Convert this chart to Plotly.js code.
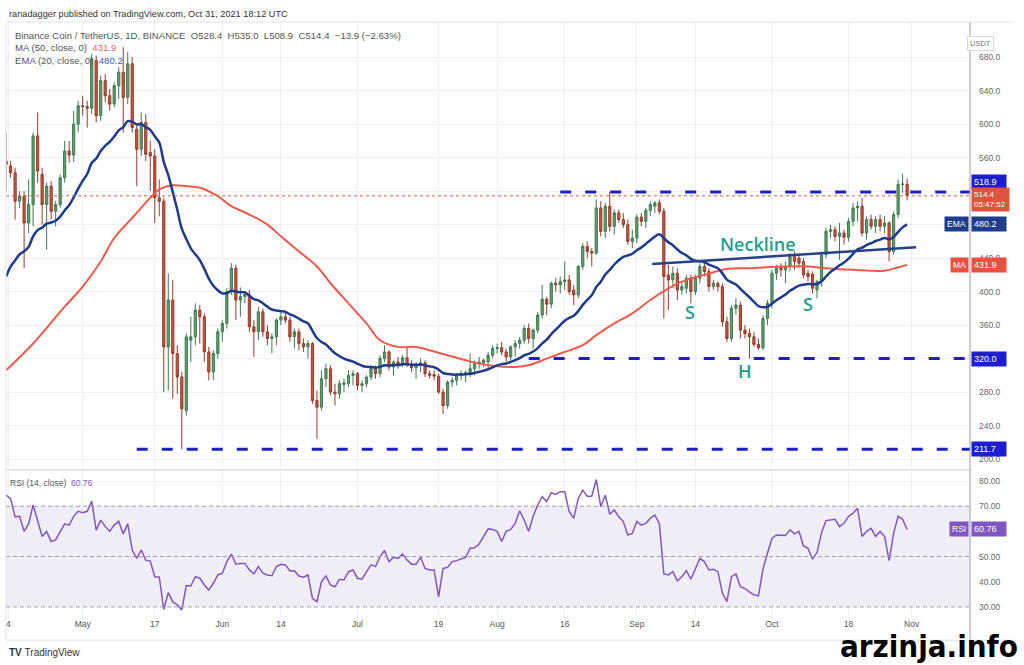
<!DOCTYPE html>
<html><head><meta charset="utf-8">
<script src="https://cdn.plot.ly/plotly-3.0.1.min.js"></script>
<style>html,body{margin:0;padding:0;background:#fff}#chart{width:1024px;height:665px}</style>
</head><body><div id="chart"></div>
<script>
// ---- data ----
const startDate = '2021-04-14';
const opens  = [556,550,542,508,514,482,504,586,540,504,526,496,504,536,568,563,600,
622,621,619,676,610,652,634,624,646,662,632,672,594,570,602,566,562,512,508,334,390,326,298,258,342,346,378,370,328,304,326,
352,362,400,428,390,394,396,358,352,376,352,344,346,366,370,366,346,352,338,334,338,270,262,296,308,280,278,289,290,300,
302,288,290,298,308,302,320,328,310,316,314,321,313,309,312,315,302,301,299,280,264,292,294,300,302,302,308,314,315,316,324,
332,333,328,322,334,338,342,356,344,354,372,391,385,410,408,412,414,402,396,430,454,448,446,500,472,502,478,494,486,480,460,
464,489,484,497,502,506,496,420,414,422,402,404,416,400,416,430,424,406,410,406,364,344,380,384,354,350,346,337,333,368,
386,422,430,426,430,442,440,436,422,421,402,412,444,472,474,466,470,465,484,500,502,470,486,478,486,478,482,448,492,528,528.4];
const highs  = [590,556,548,520,520,534,590,614,548,530,532,508,540,580,580,616,628,
634,628,684,682,658,660,642,650,668,692,686,680,600,614,612,580,570,534,512,422,414,336,304,350,370,386,384,374,334,330,356,
366,404,434,432,405,400,402,366,382,380,360,350,368,376,374,370,356,356,344,342,340,282,306,314,312,290,294,296,306,306,
304,294,300,312,312,324,336,330,318,322,324,334,318,316,320,318,306,306,302,284,294,298,302,306,306,326,318,322,320,328,336,
338,340,332,336,342,346,360,362,356,376,408,394,412,416,418,436,420,408,432,458,460,452,510,508,506,518.9,498,498,494,486,474,
492,494,500,508,508,510,500,432,430,428,410,420,420,420,434,436,428,414,412,410,370,384,392,388,360,356,352,344,372,390,
426,432,434,436,446,448,444,440,426,424,414,448,476,480,478,482,474,488,506,508,512,490,492,490,492,490,484,496,534,541,535];
const lows   = [520,536,486,500,428,470,478,530,480,450,486,478,500,530,554,555,590,
610,596,612,602,604,626,616,620,630,590,624,590,526,562,556,520,482,490,280,282,272,278,211.7,252,316,336,338,316,294,294,320,
340,356,396,366,370,386,352,322,342,346,336,326,336,360,362,340,332,330,328,320,266,224,258,286,276,264,272,280,286,288,
282,280,286,294,296,298,316,306,300,308,310,310,304,296,304,298,296,294,278,254,260,286,288,294,292,298,300,308,310,308,320,
326,324,316,318,322,332,338,338,332,350,368,372,380,400,398,402,396,384,392,426,440,430,444,466,464,472,468,482,476,456,452,
458,478,476,490,494,492,368,378,404,390,396,398,386,396,410,418,400,402,400,358,340,340,372,344,344,320,334,330,330,360,
380,414,418,410,424,426,428,416,412,398,392,406,440,464,460,438,456,460,478,484,466,462,474,470,472,470,436,444,488,518,508.9];
const closes = [552,542,508,514,482,504,586,544,504,526,496,504,536,568,563,600,622,
621,619,678,610,652,634,624,646,662,632,672,596,570,602,564,562,512,508,334,390,326,298,260,346,346,378,370,328,304,326,352,
362,400,428,390,394,397,358,352,376,352,344,346,366,370,366,346,352,338,334,338,270,262,296,308,280,278,290,291,300,302,
288,290,298,308,302,320,328,310,316,314,321,313,309,312,315,302,300,299,280,264,292,294,300,302,303,308,314,316,318,324,332,
333,328,322,334,338,342,356,344,354,372,391,385,410,408,412,414,400,396,430,454,448,446,500,472,502,478,494,486,480,460,464,
489,484,497,504,506,496,418,414,422,402,406,416,400,416,430,424,406,410,406,364,344,380,384,354,350,346,337,333,368,386,
422,428,426,430,442,436,434,420,418,404,412,444,472,474,466,470,465,484,500,502,470,486,478,486,478,482,448,492,528,528.4,514.4];
const rsiValues = [74.4,73,65.8,66,60,63,70.5,64.5,58,60,
56,56.6,60,63,62.5,66,68,67.4,68,72,
60.5,64.5,62,60,62.5,64,59,63,52.6,49.3,
52.6,48.6,48.2,42,41.8,29,35.7,32,30.8,28.8,
38.5,38.3,42,41.4,38.7,36.7,39.4,42.7,43.4,48,
51,47,47.3,47.3,44.7,43.1,46,43.4,42.7,42.4,
46,46.9,46.7,44.3,44.4,42.3,41.8,42.7,33.4,32.1,
40,42.3,38.7,38,41,40.7,44,44.7,41.4,41,
44,46.7,46,50,52.4,48,49.7,49.3,51,48.6,
47,47,49.7,45.3,44.7,44.7,34,45.3,45.7,48,
48.4,49,49.7,53.3,53.5,55,58,61,60.8,60,
56,60,60.8,63.2,68.2,64.5,60,66,70.5,73.8,
71.8,75.4,74.7,75.8,75.8,67.8,65.2,73,76.4,74,
74,80.6,69.8,74.4,66.8,68.5,65.8,63.9,58.6,59.2,
63.9,62.5,63.2,65.2,66.5,63.2,43.1,42.7,44,40.4,
42,44.4,41,45.3,49.3,48,44.7,45,44,35.4,
32.1,42,43.1,38,37.3,36,34.8,34.4,45,51.3,
57.2,58.6,58.5,58.4,60.6,59,60,54.2,53.3,49,
51.6,59.5,64.3,64.5,64.8,61.9,63.2,66,67.2,69.2,
58,60,61.2,58,60,58,48.4,59.2,66,64.8,
60.76];
const maDates = ['2021-04-14','2021-04-20','2021-04-27','2021-05-01','2021-05-05','2021-05-08','2021-05-12','2021-05-16','2021-05-18','2021-05-21',
'2021-05-24','2021-05-27','2021-05-31','2021-06-03','2021-06-07','2021-06-11','2021-06-14','2021-06-18','2021-06-22','2021-06-25',
'2021-06-29','2021-07-03','2021-07-06','2021-07-10','2021-07-14','2021-07-17','2021-07-21','2021-07-25','2021-07-28','2021-08-01',
'2021-08-05','2021-08-08','2021-08-12','2021-08-16','2021-08-20','2021-08-23','2021-08-27','2021-08-31','2021-09-04','2021-09-08',
'2021-09-12','2021-09-16','2021-09-21','2021-09-26','2021-10-04','2021-10-09','2021-10-13','2021-10-19','2021-10-26','2021-10-29','2021-10-31'];
const maValues = [306,338,382,406,436,464,488,512,522,527,
526,524,514,502,492,480,466,448,430,410,
386,362,342,334,334,330,324,318,314,311,
310,312,320,328,336,348,362,374,390,404,
414,420,427,428,430,430,428,426,425,429,431.9];
const emaSeed = 418;          // EMA(20) value at the first visible day
const emaLength = 20;
const tickDates  = ['2021-04-14 12:00','2021-05-01','2021-05-17','2021-06-01','2021-06-14','2021-07-01','2021-07-19','2021-08-01','2021-08-16','2021-09-01','2021-09-14','2021-10-01','2021-10-18','2021-11-01'];
const tickLabels = ['4','May','17','Jun','14','Jul','19','Aug','16','Sep','14','Oct','18','Nov'];
const priceTicks = [200,240,280,320,360,400,440,480,520,560,600,640,680];
const priceTickLabels = ['200.0','240.0','280.0','','360.0','400.0','440.0','','','560.0','600.0','640.0','680.0'];
const rsiTicks = [30,40,50,60,70,80];
const rsiTickLabels = ['30.00','40.00','50.00','','70.00','80.00'];
const levelValues = [518.9, 320.0, 211.7];
const levelStarts = ['2021-08-15','2021-08-08','2021-05-13'];
const necklineDates = ['2021-09-04 10:00','2021-11-02'];
const necklinePrices = [433, 453];
const lastPrice = 514.4, lastEma = 480.2, lastMa = 431.9, lastRsi = 60.76;

// ---- derived ----
const dates = [];
const t0 = Date.parse(startDate + 'T00:00:00Z');
for (let i = 0; i < closes.length; i++) dates.push(new Date(t0 + i*86400000).toISOString().slice(0,10));
const ema = [];
const a = 2/(emaLength+1);
closes.forEach((c,i)=>{ ema.push(i===0 ? emaSeed : ema[i-1] + a*(c-ema[i-1])); });

const FONT = 'Liberation Sans, Arial, sans-serif';
const traces = [
  {type:'candlestick', x:dates, open:opens, high:highs, low:lows, close:closes, xaxis:'x', yaxis:'y',
   increasing:{line:{color:'#3f7a50',width:1}, fillcolor:'#5e9f6f'},
   decreasing:{line:{color:'#963a2c',width:1}, fillcolor:'#c9553f'}, hoverinfo:'skip'},
  {type:'scatter', mode:'lines', x:maDates, y:maValues, line:{color:'#ee5a4c',width:2,shape:'spline'}, xaxis:'x', yaxis:'y', hoverinfo:'skip'},
  {type:'scatter', mode:'lines', x:dates, y:ema, line:{color:'#1f3b8c',width:2.5,shape:'spline'}, xaxis:'x', yaxis:'y', hoverinfo:'skip'},
  {type:'scatter', mode:'lines', x:dates, y:rsiValues, line:{color:'#7e57c2',width:1.5}, xaxis:'x', yaxis:'y2', hoverinfo:'skip'}
];

const shapes = [];
shapes.push({type:'rect', xref:'paper', yref:'y2', x0:0, x1:1, y0:30, y1:70, fillcolor:'rgba(126,87,194,0.10)', line:{width:0}, layer:'below'});
[30,50,70].forEach(v=>shapes.push({type:'line', xref:'paper', yref:'y2', x0:0, x1:1, y0:v, y1:v, line:{color:'#9e9ea6',width:1,dash:'4px,3px'}}));
levelValues.forEach((v,i)=>shapes.push({type:'line', xref:'x', yref:'y', x0:levelStarts[i], x1:'2021-11-14', y0:v, y1:v, line:{color:'#2020c0',width:3,dash:'11px,14px'}}));
shapes.push({type:'line', xref:'x', yref:'y', x0:necklineDates[0], x1:necklineDates[1], y0:necklinePrices[0], y1:necklinePrices[1], line:{color:'#24418a',width:2.5}});
shapes.push({type:'line', xref:'paper', yref:'y', x0:0, x1:1, y0:lastPrice, y1:lastPrice, line:{color:'#e0603f',width:1,dash:'dot'}});
shapes.push({type:'line', xref:'paper', yref:'paper', x0:0, x1:1, y0:0.2471, y1:0.2471, line:{color:'#c9ccd4',width:1}});
shapes.push({type:'line', xref:'paper', yref:'paper', x0:1, x1:1, y0:-0.039, y1:1, line:{color:'#9a9ca3',width:1}});
shapes.push({type:'line', xref:'paper', yref:'paper', x0:0, x1:1.045, y0:1, y1:1, line:{color:'#e0e3eb',width:1}});
shapes.push({type:'line', xref:'paper', yref:'paper', x0:0, x1:0, y0:-0.039, y1:1, line:{color:'#e0e3eb',width:1}});
shapes.push({type:'line', xref:'paper', yref:'paper', x0:0, x1:1.045, y0:-0.039, y1:-0.039, line:{color:'#e0e3eb',width:1}});

const PX = px => (px-6)/964;
const PY = py => (617-py)/595;
const ann = [];
function txt(x,y,text,opt){ ann.push(Object.assign({xref:'paper',yref:'paper',x:PX(x),y:PY(y),text:text,showarrow:false,xanchor:'left',yanchor:'middle',font:{family:FONT,size:9.6,color:'#555'}},opt||{})); }
txt(7,14,'ranadagger published on TradingView.com, Oct 31, 2021 18:12 UTC',{font:{family:FONT,size:9.2,color:'#333'}});
txt(13,35,'Binance Coin / TetherUS, 1D, BINANCE&nbsp;&nbsp;O528.4&nbsp;&nbsp;H535.0&nbsp;&nbsp;L508.9&nbsp;&nbsp;C514.4&nbsp;&nbsp;−13.9 (−2.63%)');
txt(13,48,'MA (50, close, 0)&nbsp;&nbsp;<span style="color:#ee6a5c">'+lastMa.toFixed(1)+'</span>');
txt(13,61,'EMA (20, close, 0)&nbsp;&nbsp;<span style="color:#2d5fd6">'+lastEma.toFixed(1)+'</span>');
txt(8,483,'RSI (14, close)&nbsp;&nbsp;<span style="color:#7e57c2">'+lastRsi.toFixed(2)+'</span>',{font:{family:FONT,size:8.5,color:'#555'}});
ann.push({xref:'paper',yref:'paper',x:PX(994),y:PY(36),text:'USDT',showarrow:false,font:{family:FONT,size:7.5,color:'#777'},bordercolor:'#d6d8de',borderwidth:1,borderpad:2,bgcolor:'#fff'});
function tag(yval,text,bg,opt){ ann.push(Object.assign({xref:'paper',yref:'y',x:PX(971),y:yval,xanchor:'left',yanchor:'middle',text:text,showarrow:false,bgcolor:bg,font:{family:FONT,size:9,color:'#fff'},borderpad:2,width:30,align:'left'},opt||{})); }
tag(levelValues[0], levelValues[0].toFixed(1), '#1d1dd2', {yshift:10});
tag(lastPrice, lastPrice.toFixed(1)+'<br>05:47:52', '#e0533d', {yshift:-4, width:33, font:{family:FONT,size:8,color:'#fff'}});
tag(lastEma, lastEma.toFixed(1), '#1f3b8c');
tag(lastMa, lastMa.toFixed(1), '#e8503f');
tag(levelValues[1], levelValues[1].toFixed(1), '#1d1dd2');
tag(levelValues[2], levelValues[2].toFixed(1), '#1d1dd2');
ann.push({xref:'paper',yref:'y',x:PX(969),y:lastEma,xanchor:'right',yanchor:'middle',text:'EMA',showarrow:false,bgcolor:'#1f3b8c',font:{family:FONT,size:8.5,color:'#fff'},borderpad:2});
ann.push({xref:'paper',yref:'y',x:PX(969),y:lastMa,xanchor:'right',yanchor:'middle',text:'MA',showarrow:false,bgcolor:'#e8503f',font:{family:FONT,size:8.5,color:'#fff'},borderpad:2});
ann.push({xref:'paper',yref:'y2',x:PX(971),y:lastRsi,xanchor:'left',yanchor:'middle',text:lastRsi.toFixed(2),showarrow:false,bgcolor:'#7e57c2',font:{family:FONT,size:9,color:'#fff'},borderpad:2,width:30,align:'left'});
ann.push({xref:'paper',yref:'y2',x:PX(969),y:lastRsi,xanchor:'right',yanchor:'middle',text:'RSI',showarrow:false,bgcolor:'#7e57c2',font:{family:FONT,size:8.5,color:'#fff'},borderpad:2});
const TEAL = '#22a08e';
function lbl(x,y,t){ ann.push({xref:'x',yref:'y',x:x,y:y,text:t,showarrow:false,font:{family:'Open Sans, sans-serif',size:18,color:TEAL,weight:600}}); }
lbl('2021-09-28', 457, 'Neckline');
lbl('2021-09-12 18:00', 376, 'S');
lbl('2021-10-08 22:00', 385, 'S');
lbl('2021-09-25', 305, 'H');
txt(7,652,'<b>TV</b>&nbsp;TradingView',{font:{family:FONT,size:10,color:'#333'}});
ann.push({xref:'paper',yref:'paper',x:PX(1020),y:PY(646),xanchor:'right',yanchor:'middle',text:'<b>arzinja.info</b>',showarrow:false,font:{family:'Liberation Sans Narrow, DejaVu Sans Condensed, sans-serif',size:31,color:'#000'}});

const layout = {
  width:1024, height:665, margin:{l:6,r:54,t:22,b:48}, paper_bgcolor:'#fff', plot_bgcolor:'#fff',
  showlegend:false, hovermode:false, dragmode:false,
  font:{family:FONT,size:9,color:'#555'},
  xaxis:{type:'date', range:['2021-04-13 23:30','2021-11-13 23:00'], anchor:'y2', tickvals:tickDates, ticktext:tickLabels,
         showgrid:true, gridcolor:'#eef0f4', ticks:'', showline:false, zeroline:false, rangeslider:{visible:false},
         tickfont:{family:FONT,size:8.5,color:'#555'}},
  yaxis:{domain:[0.2471,1], range:[187,722], side:'right', anchor:'x', tickvals:priceTicks, ticktext:priceTickLabels,
         showgrid:true, gridcolor:'#eef0f4', ticks:'', showline:false, zeroline:false, ticklabelstandoff:8,
         tickfont:{family:FONT,size:8.5,color:'#666'}},
  yaxis2:{domain:[0,0.2437], range:[26,83.6], side:'right', anchor:'x', tickvals:rsiTicks, ticktext:rsiTickLabels,
          showgrid:true, gridcolor:'#eef0f4', ticks:'', showline:false, zeroline:false, ticklabelstandoff:8,
          tickfont:{family:FONT,size:8.5,color:'#666'}},
  shapes:shapes, annotations:ann
};
Plotly.newPlot('chart', traces, layout, {staticPlot:true, displayModeBar:false});
</script></body></html>
